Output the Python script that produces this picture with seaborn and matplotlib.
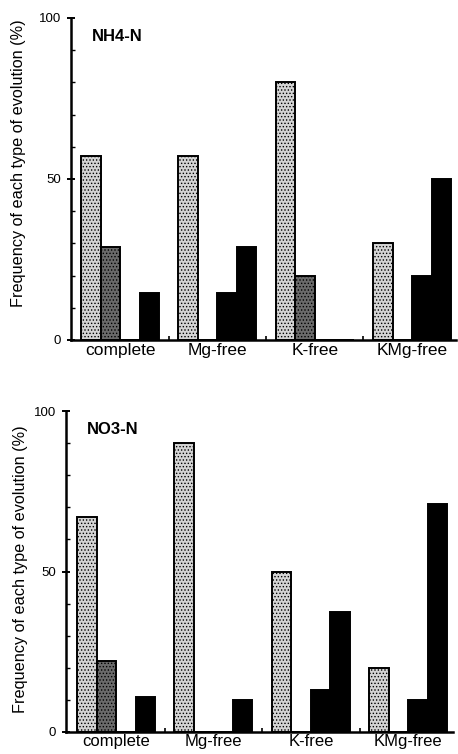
import numpy as np
import pandas as pd
import matplotlib
matplotlib.use("Agg")
import matplotlib.pyplot as plt
import seaborn as sns
from matplotlib.ticker import FixedLocator

sns.set_theme(style="white")
plt.rcParams['font.family'] = ['Liberation Sans', 'DejaVu Sans']
plt.rcParams['hatch.linewidth'] = 0.6

categories = ["complete", "Mg-free", "K-free", "KMg-free"]
types = ["type 1", "type 2", "type 3", "type 4"]

nh4_type1 = [57, 57, 80, 30]
nh4_type2 = [29, 0, 20, 0]
nh4_type3 = [0, 14.5, 0, 20]
nh4_type4 = [14.5, 29, 0, 50]

no3_type1 = [67, 90, 50, 20]
no3_type2 = [22, 0, 0, 0]
no3_type3 = [0, 0, 13, 10]
no3_type4 = [11, 10, 37.5, 71]

panels = [
    ("NH4-N", [nh4_type1, nh4_type2, nh4_type3, nh4_type4]),
    ("NO3-N", [no3_type1, no3_type2, no3_type3, no3_type4]),
]

def long_df(series):
    rows = []
    for t, vals in zip(types, series):
        for c, v in zip(categories, vals):
            rows.append({"category": c, "type": t, "value": v})
    return pd.DataFrame(rows)

W, H = 458, 754
fig = plt.figure(figsize=(W / 100, H / 100), dpi=100)

boxes = [
    dict(l=71, b=340, r=456, t=18, xlim=(-0.504, 3.45), lab=(-0.117, 0.55), xpad=2.5, xls=12.5),
    dict(l=66, b=732, r=453, t=411, xlim=(-0.514, 3.46), lab=(-0.098, 0.506), xpad=1.2, xls=12),
]

styles = [
    dict(facecolor="#d4d4d4", hatch="....."),
    dict(facecolor="#6a6a6a", hatch="....."),
    dict(facecolor="black", hatch=None),
    dict(facecolor="black", hatch=None),
]

for (title, series), bx in zip(panels, boxes):
    ax = fig.add_axes([bx["l"] / W, (H - bx["b"]) / H,
                       (bx["r"] - bx["l"]) / W, (bx["b"] - bx["t"]) / H])
    df = long_df(series)
    sns.barplot(data=df, x="category", y="value", hue="type", order=categories,
                hue_order=types, width=0.8, dodge=True, gap=0, ax=ax,
                legend=False, errorbar=None, palette=["#d4d4d4", "#6a6a6a", "black", "black"],
                edgecolor="black", linewidth=1.4, saturation=1)
    for cont, st in zip(ax.containers, styles):
        for p in cont.patches:
            p.set_facecolor(st["facecolor"])
            p.set_edgecolor("black")
            if st["hatch"]:
                p.set_hatch(st["hatch"])
    ax.set_xlim(*bx["xlim"])
    ax.set_ylim(0, 100)
    sns.despine(ax=ax)
    for s in ["left", "bottom"]:
        ax.spines[s].set_linewidth(1.8)
        ax.spines[s].set_color("black")
    ax.set_yticks([0, 50, 100])
    ax.set_yticklabels(["0", "50", "100"])
    ax.yaxis.set_minor_locator(FixedLocator(np.arange(10, 100, 10)))
    ax.tick_params(axis="y", which="major", direction="inout", length=6, width=1.4,
                   labelsize=9.5, pad=4, colors="black", left=True)
    ax.tick_params(axis="y", which="minor", direction="in", length=3, width=1.0,
                   left=True, colors="black")
    ax.xaxis.set_minor_locator(FixedLocator([0.5, 1.5, 2.5]))
    ax.tick_params(axis="x", which="major", length=0, labelsize=bx["xls"], pad=bx["xpad"],
                   colors="black")
    ax.tick_params(axis="x", which="minor", direction="in", length=3, width=1.2,
                   bottom=True, colors="black")
    ax.set_xlabel("")
    ax.set_ylabel("Frequency of each type of evolution (%)", fontsize=11.7, color="black")
    ax.yaxis.set_label_coords(*bx["lab"])
    ax.text(0.055, 0.965, title, transform=ax.transAxes, fontsize=12,
            fontweight="bold", ha="left", va="top", color="black")

fig.savefig("out.png", dpi=100)
